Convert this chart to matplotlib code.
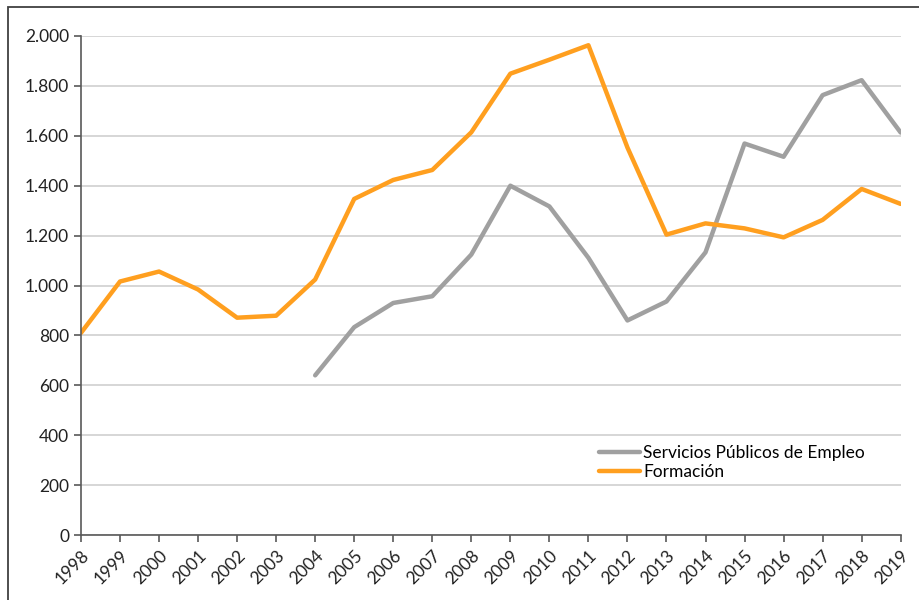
import matplotlib.pyplot as plt
from matplotlib.patches import Rectangle
from matplotlib.ticker import FuncFormatter
import numpy as np

plt.rcParams['font.family'] = ['Lato', 'DejaVu Sans']

anios = list(range(1998, 2020))

# Servicios Públicos de Empleo: sin datos antes de 2004
servicios = [None, None, None, None, None, None,
             640, 833, 930, 957, 1124, 1400, 1317, 1111, 860, 936,
             1133, 1569, 1516, 1763, 1823, 1613]

formacion = [810, 1016, 1056, 984, 871, 879, 1024, 1347, 1423, 1463, 1614,
             1849, 1905, 1963, 1553, 1204, 1249, 1229, 1193, 1263, 1387, 1327]

serv = np.array([np.nan if v is None else v for v in servicios], dtype=float)

fig = plt.figure(figsize=(9.2, 6), dpi=100)
ax = fig.add_axes([0.088, 0.1083, 0.891, 0.8317])

# marco exterior del gráfico
fig.patches.append(Rectangle((8 / 920, -0.2), 1.2, 1.188, transform=fig.transFigure,
                             fill=False, edgecolor='#404040', linewidth=1.3))

ax.plot(anios, serv, color='#A0A0A0', linewidth=3.2, solid_capstyle='round',
        label='Servicios Públicos de Empleo')
ax.plot(anios, formacion, color='#FF9F1F', linewidth=3.2, solid_capstyle='round',
        label='Formación')

ax.set_xlim(1998, 2019)
ax.set_ylim(0, 2000)
ax.set_yticks(range(0, 2001, 200))
ax.set_xticks(anios)
ax.yaxis.set_major_formatter(FuncFormatter(lambda v, p: f'{int(v):,}'.replace(',', '.')))
ax.set_xticklabels([str(a) for a in anios], rotation=45, ha='right', va='top',
                   rotation_mode='anchor')

ax.grid(axis='y', color='#D0D0D0', linewidth=1.2)
ax.set_axisbelow(True)
for s in ['top', 'right']:
    ax.spines[s].set_visible(False)
for s in ['left', 'bottom']:
    ax.spines[s].set_color('#595959')
    ax.spines[s].set_linewidth(1.2)
ax.tick_params(axis='both', colors='#595959', length=5, width=1.2, labelsize=12.5,
               labelcolor='#222222')
ax.tick_params(axis='x', pad=4)

ax.legend(loc='upper left', bbox_to_anchor=(590 / 920, 1 - 436 / 600),
          bbox_transform=fig.transFigure, frameon=False, fontsize=12.5,
          handlelength=2.4, handletextpad=0.15, labelspacing=0.2, borderpad=0)

plt.savefig('out.png', dpi=100)
plt.close()
